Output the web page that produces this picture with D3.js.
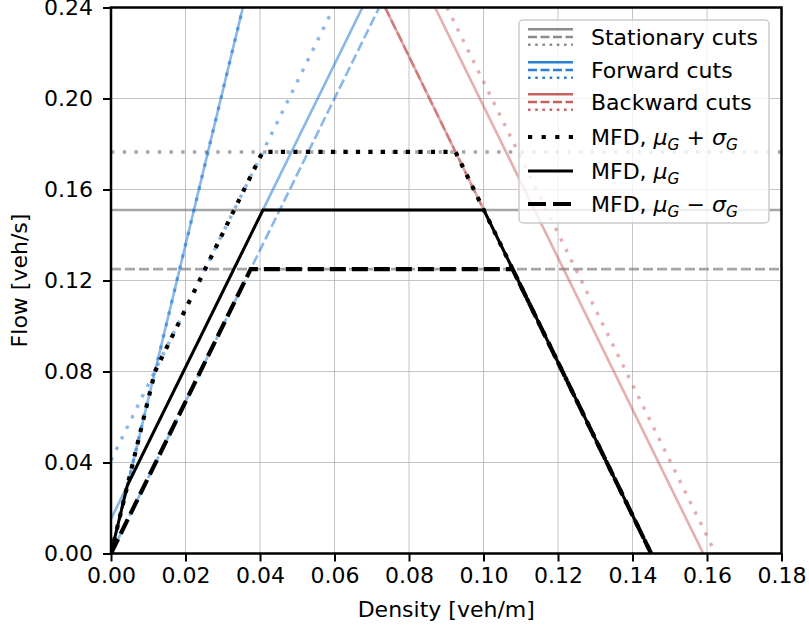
<!DOCTYPE html>
<html><head><meta charset="utf-8">
<script src="https://cdn.jsdelivr.net/npm/d3@7"></script>
<style>body{margin:0;background:#fff}svg text{font-family:"DejaVu Sans",sans-serif;fill:#000}</style>
</head><body><svg id="c" width="809" height="629"></svg>
<script>
// ---------- data ----------
const xTicks = [0, 0.02, 0.04, 0.06, 0.08, 0.10, 0.12, 0.14, 0.16, 0.18];
const yTicks = [0, 0.04, 0.08, 0.12, 0.16, 0.20, 0.24];
const xLabel = "Density [veh/m]";
const yLabel = "Flow [veh/s]";

// stationary cuts: constant flow levels
const stationaryPlus = 0.1765;
const stationaryMean = 0.151;
const stationaryMinus = 0.125;

// forward cuts [density, flow] end points
const forwardSteepSolid = [[0, 0], [0.0354, 0.24]];
const forwardSteepDotted = [[0, 0], [0.0354, 0.24]];
const forwardMean = [[0, 0.0152], [0.0675, 0.24]];
const forwardPlus = [[0, 0.041], [0.0598, 0.24]];
const forwardMinus = [[0, 0], [0.072, 0.24]];

// backward cuts
const backwardMainSolid = [[0.0736, 0.24], [0.145, 0]];
const backwardMainDashed = [[0.0736, 0.24], [0.145, 0]];
const backwardMean = [[0.087, 0.24], [0.159, 0]];
const backwardPlus = [[0.0902, 0.24], [0.1623, 0]];

// MFDs
const mfdPlus = [[0, 0], [0.0118, 0.080], [0.0407, 0.1765], [0.0925, 0.1765], [0.145, 0]];
const mfdMean = [[0, 0], [0.0044, 0.030], [0.0408, 0.151], [0.1001, 0.151], [0.145, 0]];
const mfdMinus = [[0, 0], [0.0375, 0.125], [0.1078, 0.125], [0.145, 0]];

const legendCutLabels = ["Stationary cuts", "Forward cuts", "Backward cuts"];

// ---------- styles ----------
const grey = "#808080", blue = "#1470d2", red = "#c0504d";
const FS = 22;
const cutDash = {solid: null, dashed: "10,4", dotted: "3.4,8.3"};
const mfdDash = {solid: null, dashed: "16,6", dotted: "4.2,8.3"};

const svg = d3.select("#c");
const L = 111, R = 781.5, T = 7.5, B = 553.5;
const x = d3.scaleLinear().domain([0, 0.18]).range([L, R]);
const y = d3.scaleLinear().domain([0, 0.24]).range([B, T]);

svg.append("defs").append("clipPath").attr("id", "clip")
  .append("rect").attr("x", L).attr("y", T).attr("width", R - L).attr("height", B - T);

// grid
const grid = svg.append("g");
grid.selectAll("line.gx").data(xTicks).join("line")
  .attr("x1", d => x(d)).attr("x2", d => x(d)).attr("y1", T).attr("y2", B)
  .attr("stroke", "#b0b0b0").attr("stroke-width", 1).attr("stroke-opacity", 0.75);
grid.selectAll("line.gy").data(yTicks).join("line")
  .attr("y1", d => y(d)).attr("y2", d => y(d)).attr("x1", L).attr("x2", R)
  .attr("stroke", "#b0b0b0").attr("stroke-width", 1).attr("stroke-opacity", 0.75);

const plot = svg.append("g").attr("clip-path", "url(#clip)");
const line = d3.line().x(d => x(d[0])).y(d => y(d[1]));

function drawPath(pts, color, width, dash, opacity) {
  plot.append("path").attr("d", line(pts)).attr("fill", "none")
    .attr("stroke", color).attr("stroke-width", width)
    .attr("stroke-opacity", opacity)
    .attr("stroke-dasharray", dash);
}
const wOf = s => s === "dotted" ? 3.4 : 2.6;

// stationary
[[stationaryMean, "solid"], [stationaryMinus, "dashed"], [stationaryPlus, "dotted"]].forEach(([q, s]) => {
  drawPath([[0, q], [0.18, q]], grey, wOf(s), cutDash[s], 0.7);
});
// forward
drawPath(forwardSteepSolid, blue, wOf("solid"), cutDash.solid, 0.5);
drawPath(forwardSteepDotted, blue, wOf("dotted"), cutDash.dotted, 0.5);
drawPath(forwardMean, blue, wOf("solid"), cutDash.solid, 0.5);
drawPath(forwardPlus, blue, wOf("dotted"), cutDash.dotted, 0.5);
drawPath(forwardMinus, blue, wOf("dashed"), cutDash.dashed, 0.5);
// backward
drawPath(backwardMainSolid, red, wOf("solid"), cutDash.solid, 0.5);
drawPath(backwardMainDashed, red, wOf("dashed"), cutDash.dashed, 0.5);
drawPath(backwardMean, red, wOf("solid"), cutDash.solid, 0.45);
drawPath(backwardPlus, red, wOf("dotted"), cutDash.dotted, 0.45);
// MFD
drawPath(mfdPlus, "#000", 4.2, mfdDash.dotted, 1);
drawPath(mfdMean, "#000", 3, mfdDash.solid, 1);
drawPath(mfdMinus, "#000", 4.2, mfdDash.dashed, 1);

// axes spines
svg.append("rect").attr("x", L).attr("y", T).attr("width", R - L).attr("height", B - T)
  .attr("fill", "none").attr("stroke", "#000").attr("stroke-width", 2.5);

// ticks
const xa = svg.append("g").attr("transform", `translate(0,${B})`)
  .call(d3.axisBottom(x).tickValues(xTicks).tickFormat(d3.format(".2f")).tickSize(8).tickPadding(6));
const ya = svg.append("g").attr("transform", `translate(${L},0)`)
  .call(d3.axisLeft(y).tickValues(yTicks).tickFormat(d3.format(".2f")).tickSize(8).tickPadding(10));
[xa, ya].forEach(a => {
  a.select(".domain").remove();
  a.selectAll(".tick line").attr("stroke", "#000").attr("stroke-width", 2);
  a.selectAll(".tick text").attr("font-size", FS).attr("font-family", "DejaVu Sans").attr("fill", "#000");
});

// axis labels
svg.append("text").attr("x", (L + R) / 2).attr("y", 617).attr("text-anchor", "middle")
  .attr("font-size", FS).text(xLabel);
svg.append("text").attr("transform", `translate(27,${(T + B) / 2}) rotate(-90)`)
  .attr("text-anchor", "middle").attr("font-size", FS).text(yLabel);

// legend
const lg = svg.append("g");
lg.append("rect").attr("x", 519).attr("y", 20).attr("width", 250).attr("height", 203)
  .attr("rx", 4).attr("fill", "#fff").attr("fill-opacity", 0.8)
  .attr("stroke", "#cccccc").attr("stroke-width", 1.5);
const hx0 = 528, hx1 = 573, tx = 591;
const cutColors = [grey, blue, red];
const cutRows = [37, 70, 102];
legendCutLabels.forEach((lab, i) => {
  const cy = cutRows[i];
  [["solid", -7.8], ["dashed", 0], ["dotted", 7.8]].forEach(([s, off]) => {
    lg.append("line").attr("x1", hx0).attr("x2", hx1).attr("y1", cy + off).attr("y2", cy + off)
      .attr("stroke", cutColors[i]).attr("stroke-width", 2.4).attr("stroke-opacity", 0.9)
      .attr("stroke-dasharray", s === "solid" ? null : (s === "dashed" ? "9,3.5" : "2.6,4.6"));
  });
  lg.append("text").attr("x", tx).attr("y", cy).attr("dy", "0.36em").attr("font-size", FS).text(lab);
});
const mfdRows = [[137, "dotted", "+"], [171, "solid", null], [204, "dashed", "\u2212"]];
mfdRows.forEach(([cy, s, op]) => {
  lg.append("line").attr("x1", hx0).attr("x2", hx1).attr("y1", cy).attr("y2", cy)
    .attr("stroke", "#000").attr("stroke-width", s === "solid" ? 3 : 4.2)
    .attr("stroke-dasharray", s === "dotted" ? "4.2,9.4" : (s === "dashed" ? "18,7" : null));
  const t = lg.append("text").attr("x", tx).attr("y", cy).attr("dy", "0.36em").attr("font-size", FS);
  t.append("tspan").text("MFD, ");
  t.append("tspan").attr("font-style", "italic").text("\u03bc");
  t.append("tspan").attr("font-style", "italic").attr("font-size", FS * 0.7).attr("dy", "0.3em").text("G");
  if (op) {
    t.append("tspan").attr("dy", "-0.21em").text(" " + op + " ");
    t.append("tspan").attr("font-style", "italic").text("\u03c3");
    t.append("tspan").attr("font-style", "italic").attr("font-size", FS * 0.7).attr("dy", "0.3em").text("G");
  }
});
</script></body></html>
